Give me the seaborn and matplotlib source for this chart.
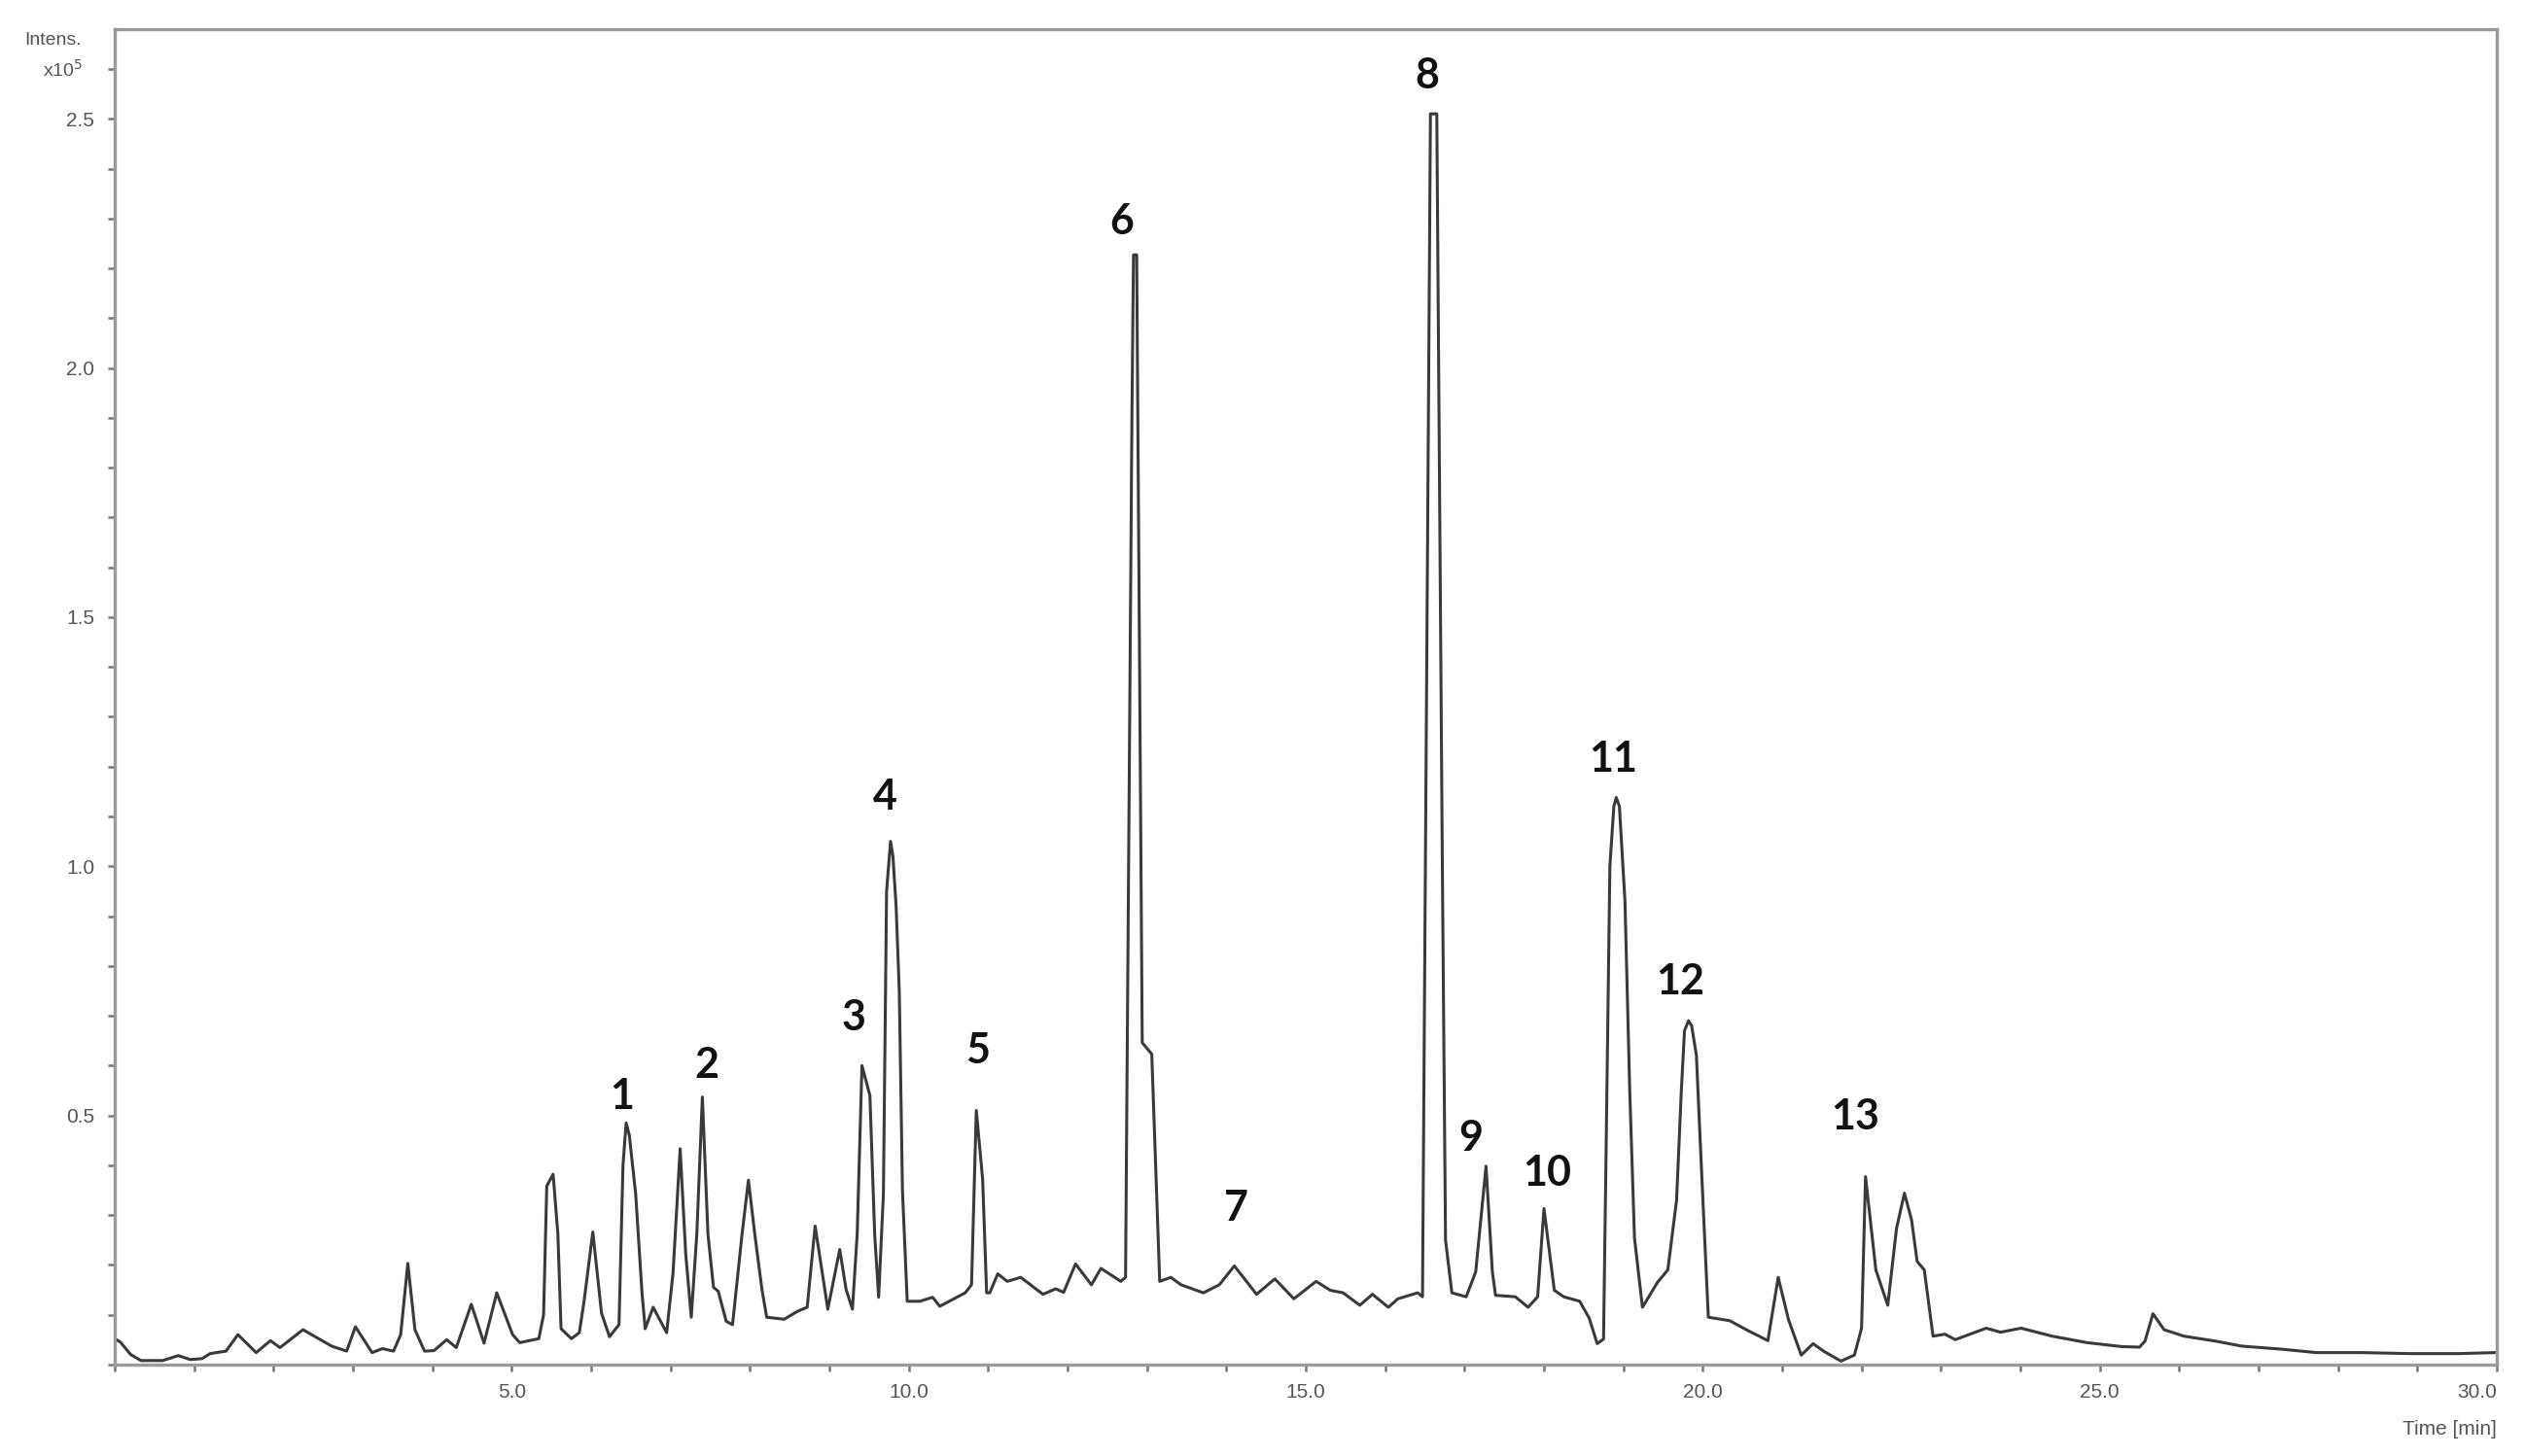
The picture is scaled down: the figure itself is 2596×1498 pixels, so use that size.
import seaborn as sns
import matplotlib.pyplot as plt
from matplotlib.ticker import MultipleLocator, FormatStrFormatter

time_min = [
    0.02, 0.07, 0.2, 0.33, 0.6, 0.8, 0.95, 1.1, 1.2, 1.4, 1.55, 1.78, 1.96, 2.08,
    2.37, 2.73, 2.92, 3.03, 3.24, 3.37, 3.51, 3.60, 3.69, 3.78, 3.90, 4.02, 4.18,
    4.30, 4.49, 4.65, 4.81, 5.01, 5.10, 5.34, 5.40, 5.44, 5.52, 5.58, 5.62, 5.75,
    5.85, 5.91, 6.02, 6.13, 6.23, 6.35, 6.40, 6.44, 6.48, 6.56, 6.64, 6.68, 6.78,
    6.95, 7.03, 7.12, 7.19, 7.26, 7.33, 7.40, 7.47, 7.54, 7.60, 7.70, 7.78, 7.90,
    7.98, 8.06, 8.15, 8.21, 8.43, 8.60, 8.72, 8.82, 8.98, 9.13, 9.21, 9.29, 9.35,
    9.41, 9.51, 9.57, 9.62, 9.68, 9.72, 9.77, 9.80, 9.84, 9.88, 9.92, 9.98, 10.14,
    10.30, 10.39, 10.71, 10.79, 10.85, 10.93, 10.98, 11.02, 11.12, 11.24, 11.41,
    11.69, 11.85, 11.95, 12.10, 12.30, 12.42, 12.67, 12.73, 12.81, 12.83, 12.87,
    12.94, 13.06, 13.16, 13.30, 13.43, 13.71, 13.91, 14.10, 14.38, 14.61, 14.85,
    15.13, 15.31, 15.47, 15.68, 15.84, 16.04, 16.16, 16.41, 16.47, 16.57, 16.65,
    16.72, 16.76, 16.84, 17.02, 17.14, 17.27, 17.35, 17.39, 17.64, 17.80, 17.92,
    18.00, 18.13, 18.25, 18.45, 18.57, 18.67, 18.75, 18.78, 18.83, 18.88, 18.91,
    18.95, 19.02, 19.08, 19.14, 19.24, 19.43, 19.56, 19.67, 19.73, 19.77, 19.82,
    19.86, 19.92, 19.97, 20.07, 20.34, 20.56, 20.82, 20.95, 21.08, 21.24, 21.39,
    21.52, 21.74, 21.91, 22.00, 22.05, 22.18, 22.33, 22.44, 22.54, 22.63, 22.70,
    22.79, 22.90, 23.05, 23.18, 23.57, 23.75, 24.01, 24.40, 24.84, 25.28, 25.50,
    25.57, 25.67, 25.81, 26.06, 26.46, 26.79, 27.28, 27.73, 28.30, 28.91, 29.52,
    29.98,
]
intensity = [
    0.05, 0.045, 0.02, 0.008, 0.008, 0.018, 0.01, 0.012, 0.022, 0.027, 0.06, 0.024,
    0.048, 0.034, 0.07, 0.037, 0.027, 0.076, 0.024, 0.032, 0.027, 0.06, 0.203, 0.07,
    0.027, 0.028, 0.05, 0.034, 0.121, 0.043, 0.144, 0.06, 0.044, 0.052, 0.10, 0.358,
    0.382, 0.262, 0.072, 0.052, 0.064, 0.127, 0.266, 0.103, 0.056, 0.08, 0.40,
    0.485, 0.46, 0.342, 0.143, 0.072, 0.115, 0.064, 0.183, 0.433, 0.223, 0.095,
    0.262, 0.537, 0.262, 0.155, 0.147, 0.087, 0.08, 0.262, 0.37, 0.262, 0.151,
    0.095, 0.091, 0.107, 0.115, 0.278, 0.111, 0.231, 0.151, 0.111, 0.262, 0.60,
    0.54, 0.262, 0.135, 0.342, 0.95, 1.05, 1.02, 0.92, 0.75, 0.35, 0.127, 0.127,
    0.135, 0.117, 0.144, 0.16, 0.51, 0.372, 0.144, 0.144, 0.182, 0.167, 0.175,
    0.141, 0.152, 0.145, 0.202, 0.16, 0.193, 0.167, 0.175, 1.9, 2.227, 2.227,
    0.646, 0.623, 0.167, 0.175, 0.16, 0.144, 0.16, 0.198, 0.141, 0.172, 0.132,
    0.167, 0.149, 0.144, 0.119, 0.141, 0.115, 0.132, 0.144, 0.136, 2.51, 2.51,
    1.0, 0.25, 0.144, 0.136, 0.186, 0.398, 0.186, 0.139, 0.136, 0.115, 0.136,
    0.313, 0.149, 0.136, 0.127, 0.093, 0.042, 0.051, 0.40, 1.0, 1.12, 1.138,
    1.12, 0.93, 0.55, 0.254, 0.115, 0.165, 0.19, 0.33, 0.55, 0.67, 0.69,
    0.68, 0.62, 0.44, 0.095, 0.088, 0.069, 0.048, 0.175, 0.09, 0.019, 0.042,
    0.027, 0.007, 0.019, 0.073, 0.377, 0.19, 0.119, 0.273, 0.344, 0.29, 0.207,
    0.19, 0.057, 0.061, 0.05, 0.073, 0.065, 0.073, 0.057, 0.044, 0.036, 0.035,
    0.047, 0.102, 0.07, 0.057, 0.047, 0.037, 0.031, 0.024, 0.024, 0.022, 0.022,
    0.024,
]

# etiquetas de los picos
peak_labels = ['1', '2', '3', '4', '5', '6', '7', '8', '9', '10', '11', '12', '13']
peak_x = [6.39, 7.46, 9.31, 9.70, 10.87, 12.68, 14.13, 16.53, 17.08, 18.04, 18.87, 19.72, 21.92]
peak_y = [0.539, 0.60, 0.697, 1.139, 0.629, 2.294, 0.313, 2.587, 0.455, 0.384, 1.216, 0.768, 0.497]

sns.set_style('white')
plt.rcParams['font.family'] = ['Liberation Sans', 'DejaVu Sans']

fig, ax = plt.subplots(figsize=(25.96, 14.98), dpi=100)
fig.subplots_adjust(left=0.0455, right=0.9892, bottom=0.0628, top=0.98)

sns.lineplot(x=time_min, y=intensity, ax=ax, color='#3a3a3a', linewidth=2.2)

for lab, px, py in zip(peak_labels, peak_x, peak_y):
    ax.text(px, py, lab, ha='center', va='center', fontsize=31,
            fontweight='bold', family=['Lato', 'DejaVu Sans'], color='#111111')

ax.set_xlim(0, 30)
ax.set_ylim(0, 2.68)

ax.set_xticks([5, 10, 15, 20, 25, 30])
ax.set_yticks([0.5, 1.0, 1.5, 2.0, 2.5])
ax.xaxis.set_minor_locator(MultipleLocator(1))
ax.yaxis.set_minor_locator(MultipleLocator(0.1))
ax.xaxis.set_major_formatter(FormatStrFormatter('%.1f'))
ax.yaxis.set_major_formatter(FormatStrFormatter('%.1f'))

ax.tick_params(which='both', direction='out', length=5, width=1.8,
               bottom=True, left=True, top=False, right=False,
               color='#777777', labelcolor='#555555', labelsize=15)
ax.tick_params(axis='x', pad=9)
ax.tick_params(axis='y', pad=10)
ax.get_xticklabels()[-1].set_horizontalalignment('right')

for s in ax.spines.values():
    s.set_color('#9a9a9a')
    s.set_linewidth(2.4)

ax.set_xlabel('')
ax.set_ylabel('')
fig.text(0.9892, 0.012, 'Time [min]', ha='right', va='bottom', fontsize=15, color='#555555')
fig.text(0.021, 0.972, 'Intens.', ha='center', va='center', fontsize=14, color='#555555')
fig.text(0.025, 0.952, 'x10$^5$', ha='center', va='center', fontsize=14, color='#555555')

plt.savefig('out.png', dpi=100)
